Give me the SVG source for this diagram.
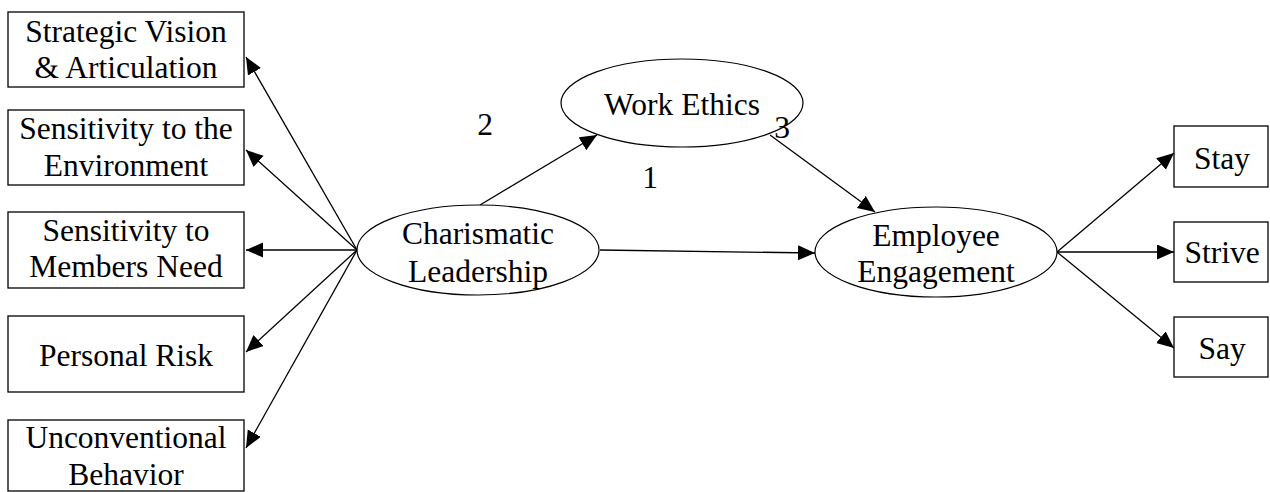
<svg xmlns="http://www.w3.org/2000/svg" width="1270" height="492" viewBox="0 0 1270 492">
<style>
.box{fill:#fff;stroke:#000;stroke-width:1.3}
.ell{fill:#fff;stroke:#000;stroke-width:1.2}
.t{font-size:31.5px;fill:#000;text-anchor:middle}
.c{stroke:#000;stroke-width:1.3;fill:none;marker-end:url(#ah)}
</style>
<defs>
<marker id="ah" markerWidth="18" markerHeight="16" refX="17" refY="7.5" orient="auto" markerUnits="userSpaceOnUse">
<path d="M0,0 L17,7.5 L0,15 Z" fill="#000"/>
</marker>
</defs>
<rect width="1270" height="492" fill="#fff"/>
<g id="connectors">
<line class="c" x1="357" y1="250" x2="246" y2="57"/>
<line class="c" x1="357" y1="250" x2="246" y2="150"/>
<line class="c" x1="357" y1="250" x2="246" y2="250"/>
<line class="c" x1="357" y1="250" x2="246" y2="352"/>
<line class="c" x1="357" y1="250" x2="246" y2="448"/>
<line class="c" x1="480" y1="205" x2="597" y2="135"/>
<line class="c" x1="770" y1="135" x2="875" y2="212"/>
<line class="c" x1="600" y1="250" x2="815" y2="253"/>
<line class="c" x1="1057" y1="252" x2="1174" y2="153"/>
<line class="c" x1="1057" y1="252" x2="1174" y2="252"/>
<line class="c" x1="1057" y1="252" x2="1174" y2="348"/>
</g>
<g font-family="Liberation Serif">
<g id="n_strategic"><rect class="box" x="8" y="12" width="236" height="75"/><text class="t" x="126" y="42">Strategic Vision</text><text class="t" x="126" y="78">&amp; Articulation</text></g>
<g id="n_env"><rect class="box" x="8" y="110" width="236" height="75"/><text class="t" x="126" y="139">Sensitivity to the</text><text class="t" x="126" y="176">Environment</text></g>
<g id="n_members"><rect class="box" x="8" y="212" width="236" height="76"/><text class="t" x="126" y="241">Sensitivity to</text><text class="t" x="126" y="277">Members Need</text></g>
<g id="n_risk"><rect class="box" x="8" y="316" width="236" height="76"/><text class="t" x="126" y="366">Personal Risk</text></g>
<g id="n_unconv"><rect class="box" x="8" y="420" width="236" height="71"/><text class="t" x="126" y="448">Unconventional</text><text class="t" x="126" y="485">Behavior</text></g>
<g id="n_charismatic"><ellipse class="ell" cx="478" cy="250" rx="121" ry="45"/><text class="t" x="478" y="244">Charismatic</text><text class="t" x="478" y="282">Leadership</text></g>
<g id="n_ethics"><ellipse class="ell" cx="682" cy="103" rx="121" ry="44"/><text class="t" x="682" y="115">Work Ethics</text></g>
<g id="n_engagement"><ellipse class="ell" cx="936" cy="252" rx="121" ry="45"/><text class="t" x="936" y="246">Employee</text><text class="t" x="936" y="282">Engagement</text></g>
<g id="n_stay"><rect class="box" x="1174" y="126" width="94" height="61"/><text class="t" x="1222" y="169">Stay</text></g>
<g id="n_strive"><rect class="box" x="1174" y="222" width="94" height="60"/><text class="t" x="1222" y="263">Strive</text></g>
<g id="n_say"><rect class="box" x="1174" y="317" width="94" height="60"/><text class="t" x="1222" y="359">Say</text></g>
<g id="labels">
<text class="t" x="485" y="135">2</text>
<text class="t" x="650" y="188">1</text>
<text class="t" x="782" y="138">3</text>
</g>
</g>
</svg>
